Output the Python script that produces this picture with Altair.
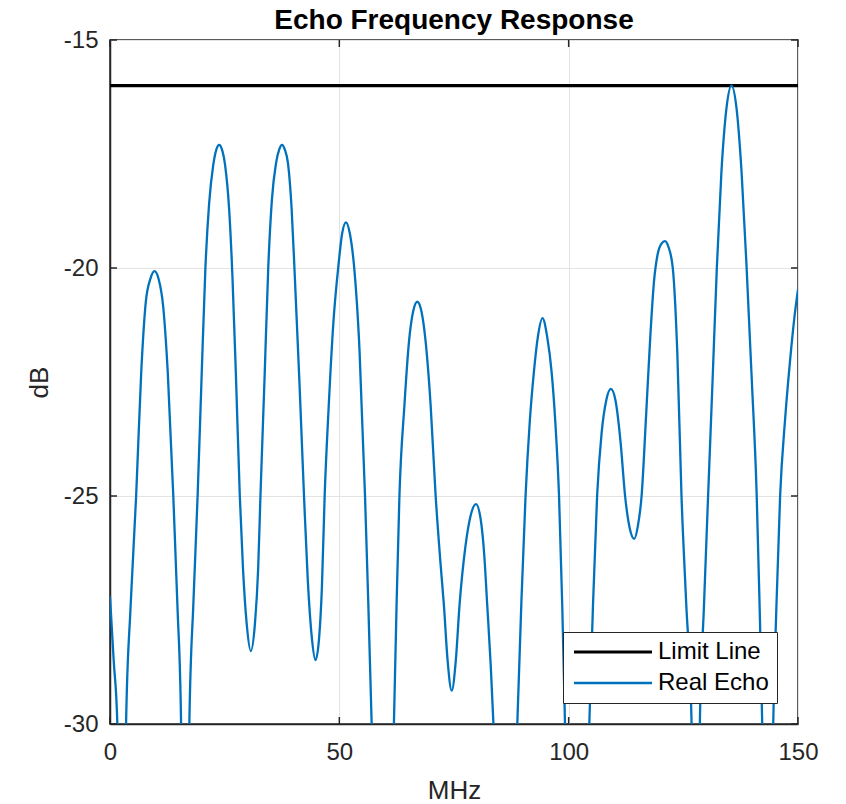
import altair as alt
import pandas as pd

# Frequency (MHz) and level (dB); -40 points mark the clipped nulls
echo_mhz = [0.0, 0.8, 1.6, 2.5, 3.5, 4.5, 5.7, 6.8, 7.8, 8.8, 9.7, 10.6, 11.6, 12.6, 13.8, 14.7, 15.5, 16.4,
            17.3, 18.2, 19.1, 20.0, 20.8, 21.6, 22.5, 23.2, 23.8, 24.4, 25.1, 26.0, 26.7, 27.5, 28.3,
            29.0, 29.8, 30.7, 31.6, 32.3, 32.8, 33.7, 34.5, 35.3, 36.2, 36.9, 37.5, 38.1, 38.8, 39.6,
            40.3, 41.3, 42.3, 43.1, 44.0, 44.8, 45.6, 46.2, 46.8, 47.7, 48.7, 49.8, 50.6, 51.45, 52.3,
            53.2, 54.4, 55.6, 56.3, 57.05, 59.5, 61.9, 62.5, 63.1, 64.2, 65.2, 66.1, 67.0, 67.9, 68.8,
            69.9, 71.0, 72.0, 72.8, 73.6, 74.5, 75.4, 76.2, 77.5, 78.7, 79.8, 80.8, 81.6, 82.25, 83.0,
            83.6, 86.2, 88.8, 89.7, 90.6, 91.5, 92.4, 93.3, 94.3, 95.3, 96.3, 97.1, 97.9, 98.6, 99.2,
            101.8, 104.5, 105.3, 106.2, 107.2, 108.2, 109.2, 110.2, 111.3, 112.3, 113.3, 114.3, 115.1,
            115.9, 116.9, 117.8, 118.6, 119.4, 120.2, 121.0, 121.8, 122.7, 123.7, 124.6, 125.6, 126.8,
            127.7, 128.6, 129.5, 130.4, 131.4, 132.3, 133.3, 134.4, 135.5, 136.6, 137.7, 138.8, 139.9,
            141.0, 141.6, 142.2, 143.4, 144.6, 145.3, 146.1, 147.2, 148.3, 149.2, 150.0]
echo_db = [-27.2, -28.6, -30.0, -40.0, -30.0, -27.4, -25.0, -22.3, -20.75, -20.24, -20.07, -20.24, -20.85, -22.3, -25.0, -27.4, -30.0, -40.0,
           -30.0, -27.3, -25.0, -22.3, -20.0, -18.6, -17.75, -17.4, -17.3, -17.4, -17.75, -18.75, -20.2, -22.5, -25.0,
           -26.6, -27.8, -28.4, -27.8, -26.6, -25.0, -22.4, -20.0, -18.5, -17.7, -17.4, -17.3, -17.4, -17.7, -18.7,
           -20.2, -22.5, -25.0, -26.8, -28.1, -28.6, -28.1, -27.0, -25.0, -23.0, -21.2, -19.95, -19.25, -19.0, -19.25,
           -19.95, -21.8, -25.0, -27.3, -30.0, -40.0, -30.0, -27.3, -25.0, -23.0, -21.6, -20.95, -20.74, -20.95, -21.6,
           -23.0, -25.0, -26.4, -27.4, -28.6, -29.27, -28.6, -27.4, -26.1, -25.4, -25.18, -25.5, -26.3, -27.4, -28.7,
           -30.0, -40.0, -30.0, -27.3, -25.0, -23.4, -22.3, -21.5, -21.1, -21.5, -22.3, -23.4, -25.0, -27.4, -30.0,
           -40.0, -30.0, -27.4, -25.0, -23.6, -22.9, -22.65, -22.9, -23.8, -25.0, -25.7, -25.94, -25.65,
           -25.0, -23.2, -21.5, -20.3, -19.7, -19.47, -19.41, -19.55, -20.0, -21.9, -25.0, -27.3, -30.0,
           -40.0, -30.0, -27.4, -25.0, -22.4, -20.0, -17.9, -16.5, -16.0, -16.5, -17.9, -20.0, -22.4,
           -25.0, -27.3, -30.0, -40.0, -30.0, -27.4, -25.0, -23.3, -22.0, -21.1, -20.47]
limit_mhz = [0.0, 150.0]
limit_db = [-16.0, -16.0]

series_names = ["Limit Line", "Real Echo"]
series_colors = ["#000000", "#0072BD"]
series_widths = [3.2, 2.3]

x_ticks = [0, 50, 100, 150]
y_ticks = [-15, -20, -25, -30]

df = pd.concat([
    pd.DataFrame({"MHz": limit_mhz, "dB": limit_db, "series": "Limit Line"}),
    pd.DataFrame({"MHz": echo_mhz, "dB": echo_db, "series": "Real Echo"}),
], ignore_index=True)

W, H = 688, 684
FONT = "Liberation Sans"
DARK = "#262626"

xscale = alt.Scale(domain=[0, 150], nice=False, zero=False)
yscale = alt.Scale(domain=[-30, -15], nice=False, zero=False)

legend_kw = dict(title=None, orient="none", legendX=453, legendY=592,
                 symbolType="M-3.9,0H3.9", symbolSize=400, symbolOffset=30,
                 labelFontSize=24, labelFont=FONT, labelColor="#000000",
                 labelOffset=33, rowPadding=7, padding=8,
                 strokeColor=DARK, fillColor="white")

lines = alt.Chart(df).mark_line(interpolate="monotone", clip=True).encode(
    x=alt.X("MHz:Q", scale=xscale,
            axis=alt.Axis(values=x_ticks, title="MHz", ticks=False, labelPadding=16,
                          titlePadding=13, grid=True, labelFlush=False,
                          labelExpr="datum.value + ''")),
    y=alt.Y("dB:Q", scale=yscale,
            axis=alt.Axis(values=y_ticks, title="dB", ticks=False, labelPadding=12,
                          titlePadding=11, grid=True, labelFlush=False,
                          labelExpr="datum.value + ''")),
    color=alt.Color("series:N",
                    scale=alt.Scale(domain=series_names, range=series_colors),
                    legend=alt.Legend(**legend_kw)),
    strokeWidth=alt.StrokeWidth("series:N",
                                scale=alt.Scale(domain=series_names, range=series_widths),
                                legend=alt.Legend(**legend_kw)),
)

xt = pd.DataFrame({"MHz": x_ticks})
yt = pd.DataFrame({"dB": y_ticks})
tick_len = 7
xb = alt.Chart(xt).mark_rule(color=DARK, strokeWidth=1.5).encode(
    x=alt.X("MHz:Q", scale=xscale), y=alt.value(H), y2=alt.value(H - tick_len))
xtop = alt.Chart(xt).mark_rule(color=DARK, strokeWidth=1.5).encode(
    x=alt.X("MHz:Q", scale=xscale), y=alt.value(0), y2=alt.value(tick_len))
yl = alt.Chart(yt).mark_rule(color=DARK, strokeWidth=1.5).encode(
    y=alt.Y("dB:Q", scale=yscale), x=alt.value(0), x2=alt.value(tick_len))
yr = alt.Chart(yt).mark_rule(color=DARK, strokeWidth=1.5).encode(
    y=alt.Y("dB:Q", scale=yscale), x=alt.value(W), x2=alt.value(W - tick_len))

chart = alt.layer(lines, xb, xtop, yl, yr).properties(
    width=W, height=H,
    background="white",
    title=alt.TitleParams("Echo Frequency Response", fontSize=28, font=FONT,
                          fontWeight="bold", color="#000000", offset=-7, anchor="middle"),
    autosize=alt.AutoSizeParams(type="none"),
    padding={"left": 102, "top": 32, "right": 40, "bottom": 80},
).configure_view(
    stroke=DARK, strokeWidth=1.5
).configure_axis(
    labelFont=FONT, titleFont=FONT, labelFontSize=24, titleFontSize=26,
    labelColor=DARK, titleColor=DARK, titleFontWeight="normal",
    domainColor=DARK, domainWidth=1.5, gridColor="#e3e3e3", gridWidth=1,
)

chart.save("out.html", embed_options={"renderer": "svg", "actions": False})
